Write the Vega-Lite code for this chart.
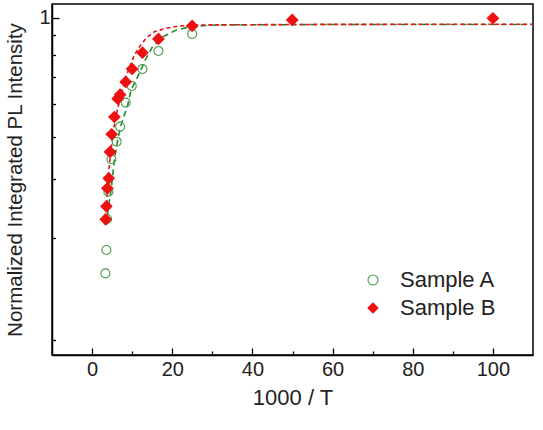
{
  "$schema": "https://vega.github.io/schema/vega-lite/v6.json",
  "width": 481,
  "height": 351,
  "autosize": {"type": "none"},
  "padding": {"left": 52, "top": 4, "right": 10, "bottom": 75},
  "background": "white",
  "config": {
    "view": {"stroke": "#000", "strokeWidth": 1.5},
    "font": "Liberation Sans",
    "axis": {"grid": false, "domainColor": "#000", "domainWidth": 1.5, "tickColor": "#000", "tickWidth": 1.3, "labelFont": "Liberation Sans", "titleFont": "Liberation Sans", "labelColor": "#222", "titleColor": "#222", "titleFontWeight": "normal"},
    "legend": {"orient": "none", "legendX": 310, "legendY": 265, "labelFont": "Liberation Sans", "labelFontSize": 22, "labelColor": "#222", "symbolSize": 100, "symbolOpacity": 1, "symbolStrokeWidth": 1.1, "labelOffset": 16, "rowPadding": 6, "padding": 0, "title": null}
  },
  "datasets": {
    "points": [
      {"invT": 3.32, "intensity": 0.1747, "sample": "Sample A"},
      {"invT": 3.57, "intensity": 0.2049, "sample": "Sample A"},
      {"invT": 3.74, "intensity": 0.2533, "sample": "Sample A"},
      {"invT": 4.07, "intensity": 0.3052, "sample": "Sample A"},
      {"invT": 4.82, "intensity": 0.3808, "sample": "Sample A"},
      {"invT": 6.14, "intensity": 0.4294, "sample": "Sample A"},
      {"invT": 6.99, "intensity": 0.4759, "sample": "Sample A"},
      {"invT": 8.39, "intensity": 0.5608, "sample": "Sample A"},
      {"invT": 9.89, "intensity": 0.6285, "sample": "Sample A"},
      {"invT": 12.56, "intensity": 0.7059, "sample": "Sample A"},
      {"invT": 16.55, "intensity": 0.7983, "sample": "Sample A"},
      {"invT": 24.96, "intensity": 0.8965, "sample": "Sample A"},
      {"invT": 3.39, "intensity": 0.2527, "sample": "Sample B"},
      {"invT": 3.57, "intensity": 0.2762, "sample": "Sample B"},
      {"invT": 3.82, "intensity": 0.3124, "sample": "Sample B"},
      {"invT": 4.14, "intensity": 0.3344, "sample": "Sample B"},
      {"invT": 4.49, "intensity": 0.4003, "sample": "Sample B"},
      {"invT": 4.89, "intensity": 0.4518, "sample": "Sample B"},
      {"invT": 5.57, "intensity": 0.5083, "sample": "Sample B"},
      {"invT": 6.39, "intensity": 0.5762, "sample": "Sample B"},
      {"invT": 6.99, "intensity": 0.5922, "sample": "Sample B"},
      {"invT": 8.39, "intensity": 0.6459, "sample": "Sample B"},
      {"invT": 9.98, "intensity": 0.7059, "sample": "Sample B"},
      {"invT": 12.56, "intensity": 0.7889, "sample": "Sample B"},
      {"invT": 16.55, "intensity": 0.8664, "sample": "Sample B"},
      {"invT": 24.96, "intensity": 0.9469, "sample": "Sample B"},
      {"invT": 49.93, "intensity": 0.9865, "sample": "Sample B"},
      {"invT": 100, "intensity": 0.998, "sample": "Sample B"}
    ],
    "fitA": [
      {"invT": 3.57, "intensity": 0.2431},
      {"invT": 4.14, "intensity": 0.2787},
      {"invT": 4.74, "intensity": 0.3087},
      {"invT": 5.57, "intensity": 0.379},
      {"invT": 6.39, "intensity": 0.4345},
      {"invT": 7.24, "intensity": 0.4815},
      {"invT": 8.89, "intensity": 0.5518},
      {"invT": 9.74, "intensity": 0.6116},
      {"invT": 11.38, "intensity": 0.6696},
      {"invT": 13.48, "intensity": 0.7592},
      {"invT": 15.05, "intensity": 0.8201},
      {"invT": 17.55, "intensity": 0.8783},
      {"invT": 21.04, "intensity": 0.9213},
      {"invT": 23.54, "intensity": 0.9359},
      {"invT": 26.78, "intensity": 0.9469},
      {"invT": 31.03, "intensity": 0.9533},
      {"invT": 60, "intensity": 0.9562},
      {"invT": 110, "intensity": 0.9566}
    ],
    "fitB": [
      {"invT": 3.32, "intensity": 0.2431},
      {"invT": 3.69, "intensity": 0.2884},
      {"invT": 4.07, "intensity": 0.342},
      {"invT": 4.57, "intensity": 0.3923},
      {"invT": 5.32, "intensity": 0.4653},
      {"invT": 6.32, "intensity": 0.5333},
      {"invT": 7.56, "intensity": 0.6116},
      {"invT": 9.06, "intensity": 0.701},
      {"invT": 10.56, "intensity": 0.7765},
      {"invT": 11.81, "intensity": 0.8219},
      {"invT": 13.48, "intensity": 0.8706},
      {"invT": 15.55, "intensity": 0.9107},
      {"invT": 18.47, "intensity": 0.932},
      {"invT": 21.79, "intensity": 0.9469},
      {"invT": 26.78, "intensity": 0.9533},
      {"invT": 60, "intensity": 0.9572},
      {"invT": 110, "intensity": 0.9579}
    ]
  },
  "layer": [
    {
      "data": {"name": "fitA"},
      "mark": {"type": "line", "color": "#1f8a2a", "strokeWidth": 1.6, "strokeDash": [6, 4], "clip": true},
      "encoding": {
        "x": {"field": "invT", "type": "quantitative", "scale": {"domain": [-10, 110], "nice": false},
          "axis": {"orient": "bottom", "values": [10, 30, 50, 70, 90], "labels": false, "domain": false, "tickSize": -4, "title": null}},
        "y": {"field": "intensity", "type": "quantitative", "scale": {"type": "log", "domain": [0.1, 1.1], "nice": false},
          "axis": {"orient": "left", "values": [0.1111, 0.2222, 0.3333, 0.4444, 0.5556, 0.6667, 0.7778, 0.8889], "labels": false, "domain": false, "tickSize": -3.5, "title": null}}
      }
    },
    {
      "data": {"name": "fitB"},
      "mark": {"type": "line", "color": "#e8141c", "strokeWidth": 1.6, "strokeDash": [4, 3], "clip": true},
      "encoding": {
        "x": {"field": "invT", "type": "quantitative", "scale": {"domain": [-10, 110], "nice": false}, "axis": null},
        "y": {"field": "intensity", "type": "quantitative", "scale": {"type": "log", "domain": [0.1, 1.1], "nice": false}, "axis": null}
      }
    },
    {
      "data": {"name": "points"},
      "transform": [{"filter": "datum.sample === 'Sample A'"}],
      "mark": {"type": "point", "opacity": 1, "strokeWidth": 1.1, "size": 81},
      "encoding": {
        "x": {"field": "invT", "type": "quantitative", "scale": {"domain": [-10, 110], "nice": false}, "axis": null},
        "y": {"field": "intensity", "type": "quantitative", "scale": {"type": "log", "domain": [0.1, 1.1], "nice": false}, "axis": null},
        "shape": {"field": "sample", "type": "nominal", "scale": {"domain": ["Sample A", "Sample B"], "range": ["circle", "diamond"]}},
        "fill": {"field": "sample", "type": "nominal", "scale": {"domain": ["Sample A", "Sample B"], "range": ["transparent", "#ee1111"]}},
        "stroke": {"field": "sample", "type": "nominal", "scale": {"domain": ["Sample A", "Sample B"], "range": ["#4a9a4a", "#ee1111"]}}
      }
    },
    {
      "data": {"name": "points"},
      "transform": [{"filter": "datum.sample === 'Sample B'"}],
      "mark": {"type": "point", "opacity": 1, "strokeWidth": 1.1, "size": 125},
      "encoding": {
        "x": {"field": "invT", "type": "quantitative", "scale": {"domain": [-10, 110], "nice": false},
          "axis": {"orient": "bottom", "values": [0, 20, 40, 60, 80, 100], "tickSize": -7, "labelFontSize": 20, "labelPadding": 11, "title": "1000 / T", "titleFontSize": 22, "titlePadding": 8}},
        "y": {"field": "intensity", "type": "quantitative", "scale": {"type": "log", "domain": [0.1, 1.1], "nice": false},
          "axis": {"orient": "left", "values": [1], "labelExpr": "'1'", "tickSize": -7, "labelFontSize": 20, "labelPadding": 9, "title": "Normalized Integrated PL Intensity", "titleFontSize": 20.5, "titlePadding": 13}},
        "shape": {"field": "sample", "type": "nominal", "scale": {"domain": ["Sample A", "Sample B"], "range": ["circle", "diamond"]}},
        "fill": {"field": "sample", "type": "nominal", "scale": {"domain": ["Sample A", "Sample B"], "range": ["transparent", "#ee1111"]}},
        "stroke": {"field": "sample", "type": "nominal", "scale": {"domain": ["Sample A", "Sample B"], "range": ["#4a9a4a", "#ee1111"]}}
      }
    }
  ],
  "resolve": {"scale": {"x": "independent", "y": "independent"}, "axis": {"x": "independent", "y": "independent"}}
}
